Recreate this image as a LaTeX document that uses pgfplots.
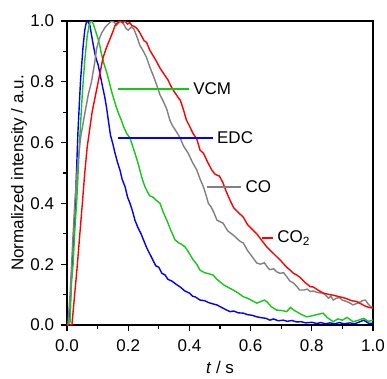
\documentclass[border=0pt]{standalone}
\usepackage{fontspec}
\setmainfont{Liberation Sans}
\usepackage{pgfplots}
\pgfplotsset{compat=1.18}
\definecolor{cgreen}{RGB}{20,200,20}
\definecolor{cgray}{RGB}{128,128,128}
\definecolor{cblue}{RGB}{0,0,255}
\definecolor{cred}{RGB}{255,0,0}
\begin{document}
\begin{tikzpicture}
\begin{axis}[
  at={(0,0)}, anchor=south west,
  scale only axis, width=306pt, height=304pt,
  xmin=0, xmax=1, ymin=0, ymax=1,
  xtick={0,0.2,...,1.0}, ytick={0,0.2,...,1.0},
  minor tick num=1,
  tick align=outside,
  xtick pos=left, ytick pos=left,
  major tick length=6pt, minor tick length=3.5pt,
  axis line style={line width=1.1pt, black},
  tick style={line width=1.1pt, black},
  /pgf/number format/assume math mode=true,
  /pgf/number format/.cd, fixed, fixed zerofill, precision=1, /pgfplots/.cd,
  ticklabel style={font=\fontsize{17}{17}\selectfont},
  yticklabel style={xshift=-3.5pt},
  xticklabel style={yshift=-5.5pt},
  xlabel={\textit{t} / s},
  ylabel={Normalized intensity / a.u.},
  label style={font=\fontsize{17}{17}\selectfont},
  xlabel style={at={(axis description cs:0.5,-0.16)}, anchor=base},
  ylabel style={at={(axis description cs:-0.157,0.5)}, anchor=center},
  every axis plot/.append style={line width=1.4pt},
]
% EDC (blue)
\addplot[cblue] coordinates {
(0.000,0.000)(0.005,0.005)(0.012,0.10)(0.020,0.25)(0.028,0.42)(0.036,0.64)(0.044,0.80)(0.052,0.91)(0.058,0.97)(0.064,1.000)
(0.070,0.995)(0.075,0.985)(0.080,0.955)(0.086,0.920)(0.094,0.880)(0.102,0.855)(0.108,0.825)(0.113,0.800)(0.118,0.775)(0.124,0.747)
(0.130,0.710)(0.135,0.674)(0.142,0.625)(0.150,0.595)(0.157,0.565)(0.165,0.535)(0.173,0.510)(0.180,0.480)(0.190,0.454)(0.198,0.420)
(0.206,0.400)(0.214,0.375)(0.222,0.345)(0.232,0.320)(0.242,0.300)(0.250,0.280)(0.260,0.255)(0.270,0.235)(0.280,0.215)(0.290,0.195)
(0.300,0.190)(0.310,0.170)(0.320,0.165)(0.330,0.150)(0.342,0.145)(0.355,0.135)(0.370,0.125)(0.385,0.112)(0.400,0.105)(0.410,0.095)
(0.420,0.092)(0.435,0.082)(0.450,0.080)(0.462,0.074)(0.475,0.070)(0.490,0.066)(0.505,0.058)(0.520,0.050)(0.533,0.044)(0.545,0.046)
(0.560,0.040)(0.576,0.039)(0.590,0.034)(0.605,0.032)(0.620,0.027)(0.635,0.024)(0.650,0.022)(0.663,0.016)(0.675,0.020)(0.690,0.014)
(0.707,0.016)(0.720,0.012)(0.735,0.015)(0.750,0.010)(0.765,0.011)(0.780,0.007)(0.800,0.009)(0.816,0.005)(0.830,0.008)(0.845,0.004)
(0.860,0.007)(0.875,0.004)(0.890,0.008)(0.905,0.004)(0.925,0.007)(0.940,0.004)(0.955,0.010)(0.970,0.016)(0.985,0.006)(1.000,0.005)
};
% VCM (green)
\addplot[cgreen] coordinates {
(0.000,0.000)(0.010,0.010)(0.015,0.15)(0.020,0.20)(0.026,0.32)(0.032,0.41)(0.042,0.62)(0.050,0.76)(0.058,0.87)(0.066,0.95)
(0.072,0.985)(0.077,1.000)(0.082,0.998)(0.086,0.990)(0.094,0.965)(0.102,0.940)(0.108,0.915)(0.113,0.890)(0.120,0.862)(0.130,0.830)
(0.138,0.800)(0.146,0.767)(0.154,0.740)(0.162,0.714)(0.170,0.692)(0.179,0.670)(0.184,0.655)(0.195,0.630)(0.206,0.615)(0.214,0.590)
(0.222,0.565)(0.230,0.540)(0.238,0.510)(0.246,0.480)(0.255,0.454)(0.262,0.440)(0.270,0.425)(0.282,0.420)(0.292,0.410)(0.304,0.400)
(0.315,0.370)(0.326,0.345)(0.340,0.310)(0.353,0.280)(0.365,0.270)(0.375,0.265)(0.386,0.257)(0.400,0.235)(0.412,0.215)(0.424,0.200)
(0.435,0.180)(0.450,0.172)(0.465,0.168)(0.478,0.164)(0.490,0.150)(0.500,0.142)(0.515,0.130)(0.530,0.122)(0.543,0.115)(0.560,0.105)
(0.576,0.093)(0.590,0.088)(0.605,0.080)(0.620,0.072)(0.635,0.078)(0.645,0.082)(0.653,0.077)(0.668,0.060)(0.685,0.049)(0.700,0.048)
(0.718,0.044)(0.730,0.058)(0.740,0.050)(0.750,0.044)(0.765,0.035)(0.783,0.027)(0.800,0.030)(0.815,0.034)(0.837,0.039)(0.850,0.025)
(0.870,0.011)(0.885,0.020)(0.900,0.016)(0.915,0.025)(0.935,0.011)(0.950,0.015)(0.970,0.022)(0.985,0.012)(1.000,0.016)
};
% CO (gray)
\addplot[cgray] coordinates {
(0.000,0.000)(0.003,0.000)(0.010,0.10)(0.015,0.20)(0.020,0.30)(0.026,0.41)(0.035,0.53)(0.045,0.62)(0.059,0.70)(0.070,0.76)
(0.080,0.80)(0.090,0.86)(0.097,0.91)(0.105,0.94)(0.113,0.96)(0.125,0.98)(0.135,0.99)(0.146,1.000)(0.155,0.995)(0.162,0.987)
(0.168,0.993)(0.175,1.000)(0.185,0.990)(0.193,0.975)(0.200,0.970)(0.210,0.980)(0.218,0.975)(0.228,0.950)(0.238,0.920)(0.250,0.900)
(0.260,0.880)(0.270,0.850)(0.282,0.820)(0.293,0.790)(0.304,0.757)(0.315,0.735)(0.326,0.710)(0.336,0.674)(0.345,0.655)(0.355,0.640)
(0.370,0.615)(0.380,0.590)(0.396,0.565)(0.410,0.535)(0.424,0.510)(0.435,0.480)(0.446,0.454)(0.455,0.425)(0.462,0.400)(0.470,0.390)
(0.480,0.370)(0.490,0.345)(0.510,0.335)(0.525,0.310)(0.543,0.296)(0.555,0.285)(0.566,0.275)(0.576,0.270)(0.590,0.245)(0.605,0.225)
(0.620,0.204)(0.632,0.200)(0.645,0.205)(0.655,0.190)(0.663,0.182)(0.675,0.185)(0.685,0.175)(0.696,0.170)(0.708,0.172)(0.718,0.159)
(0.728,0.145)(0.740,0.138)(0.750,0.128)(0.760,0.115)(0.773,0.115)(0.785,0.118)(0.795,0.110)(0.805,0.112)(0.815,0.108)(0.825,0.106)
(0.837,0.105)(0.845,0.098)(0.855,0.088)(0.862,0.095)(0.870,0.082)(0.880,0.088)(0.890,0.090)(0.900,0.082)(0.912,0.078)(0.925,0.072)
(0.935,0.066)(0.945,0.070)(0.955,0.074)(0.965,0.080)(0.975,0.082)(0.985,0.068)(0.993,0.060)(1.000,0.057)
};
% CO2 (red)
\addplot[cred] coordinates {
(0.000,0.000)(0.016,0.000)(0.025,0.10)(0.034,0.20)(0.042,0.30)(0.051,0.41)(0.058,0.50)(0.066,0.585)(0.075,0.65)(0.082,0.70)
(0.092,0.75)(0.102,0.80)(0.110,0.84)(0.118,0.88)(0.128,0.91)(0.140,0.94)(0.150,0.965)(0.157,0.985)(0.165,0.995)(0.173,1.000)
(0.182,0.995)(0.190,1.000)(0.198,0.990)(0.205,0.995)(0.212,0.985)(0.220,0.982)(0.228,0.976)(0.236,0.965)(0.244,0.950)(0.252,0.935)
(0.260,0.930)(0.270,0.905)(0.282,0.885)(0.293,0.866)(0.304,0.845)(0.314,0.830)(0.322,0.818)(0.330,0.806)(0.340,0.785)(0.352,0.765)
(0.362,0.750)(0.370,0.740)(0.380,0.710)(0.390,0.675)(0.400,0.655)(0.412,0.630)(0.424,0.612)(0.435,0.575)(0.446,0.565)(0.460,0.535)
(0.473,0.510)(0.485,0.495)(0.498,0.490)(0.510,0.467)(0.520,0.440)(0.533,0.410)(0.545,0.385)(0.560,0.370)(0.576,0.355)(0.590,0.330)
(0.605,0.315)(0.620,0.300)(0.635,0.280)(0.653,0.257)(0.670,0.240)(0.686,0.224)(0.700,0.210)(0.718,0.190)(0.730,0.180)(0.740,0.170)
(0.750,0.165)(0.760,0.158)(0.778,0.140)(0.795,0.126)(0.805,0.125)(0.820,0.115)(0.837,0.105)(0.850,0.102)(0.870,0.098)(0.890,0.093)
(0.910,0.088)(0.930,0.080)(0.947,0.077)(0.960,0.070)(0.975,0.062)(0.990,0.057)(1.000,0.056)
};
% annotation lines and labels
\draw[cgreen, line width=1.4pt] (axis cs:0.167,0.776) -- (axis cs:0.400,0.776);
\node[anchor=west, inner sep=0pt, font=\fontsize{17}{17}\selectfont] at (axis cs:0.412,0.776) {VCM};
\draw[cblue, line width=1.4pt] (axis cs:0.167,0.615) -- (axis cs:0.478,0.615);
\node[anchor=west, inner sep=0pt, font=\fontsize{17}{17}\selectfont] at (axis cs:0.490,0.615) {EDC};
\draw[cgray, line width=1.4pt] (axis cs:0.457,0.454) -- (axis cs:0.570,0.454);
\node[anchor=west, inner sep=0pt, font=\fontsize{17}{17}\selectfont] at (axis cs:0.583,0.454) {CO};
\draw[cred, line width=1.4pt] (axis cs:0.637,0.286) -- (axis cs:0.674,0.286);
\node[anchor=west, inner sep=0pt, font=\fontsize{17}{17}\selectfont] at (axis cs:0.687,0.286) {CO\textsubscript{2}};
\end{axis}
\pgfresetboundingbox
\path (-67pt,-53pt) rectangle (320pt,325pt);
\end{tikzpicture}
\end{document}
